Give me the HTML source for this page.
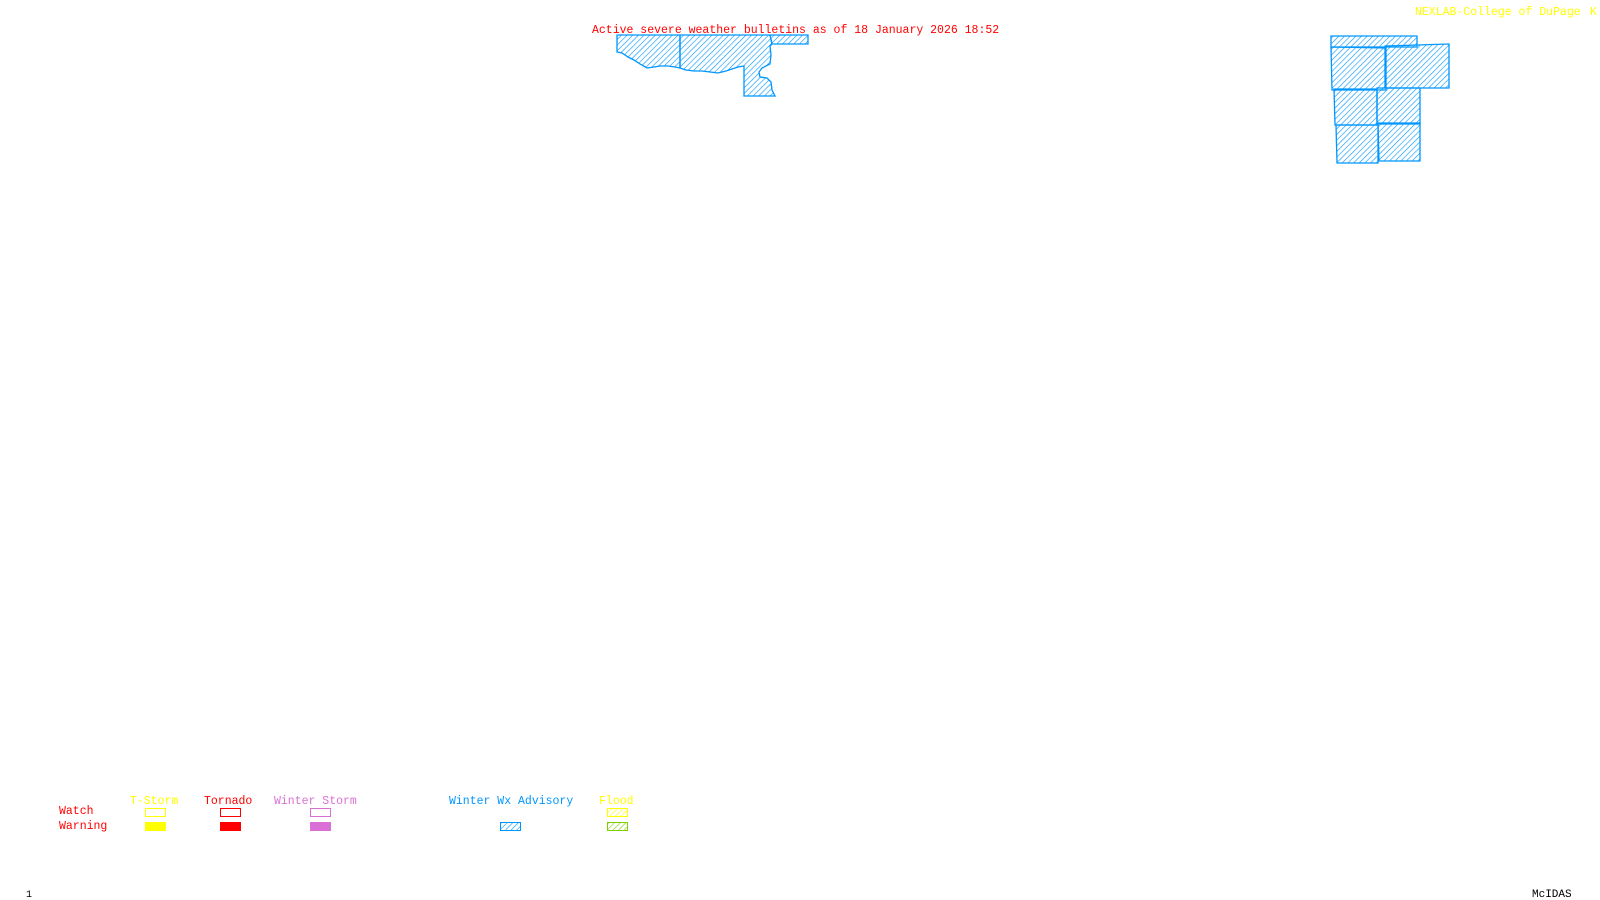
<!DOCTYPE html>
<html><head><style>
html,body{margin:0;padding:0;background:#fff;width:1600px;height:900px;overflow:hidden}
svg{display:block}
text{font-family:"Liberation Mono","DejaVu Sans Mono",monospace;font-size:11.5px}
</style></head><body>
<svg width="1600" height="900" xmlns="http://www.w3.org/2000/svg">
<defs>
<pattern id="hb" width="4" height="4" patternUnits="userSpaceOnUse" patternTransform="rotate(45)"><line x1="0" y1="0" x2="0" y2="4" stroke="#0096ff" stroke-width="1.2"/></pattern>
<pattern id="hy" width="4" height="4" patternUnits="userSpaceOnUse" patternTransform="rotate(45)"><line x1="0" y1="0" x2="0" y2="4" stroke="#ffff00" stroke-width="1.2"/></pattern>
<pattern id="hg" width="4" height="4" patternUnits="userSpaceOnUse" patternTransform="rotate(45)"><line x1="0" y1="0" x2="0" y2="4" stroke="#80d000" stroke-width="1.2"/></pattern>
</defs>
<g fill="url(#hb)" stroke="#0096ff" stroke-width="1.3">
<path d="M617,35 L617,52 L622,53 L628,57 L634,60 L640,64 L647,68 L654,67 L660,66 L668,66 L675,67 L680,68 L680,35 Z"/>
<path d="M680,35 L680,68 L686,70 L694,71 L702,71 L710,72 L718,73 L726,71 L732,69 L738,67 L744,66 L744,96 L775,96 L772,90 L771,82 L767,78 L760,77 L759,72 L762,68 L770,64 L771,55 L770,46 L772,44 L770,35 Z"/>
<path d="M770,35 L808,35 L808,44 L772,44 Z"/>
<path d="M1331,36 L1417,36 L1417,47 L1331,47 Z"/>
<path d="M1331,47 L1386,48 L1386,90 L1332,90 Z"/>
<path d="M1385,46 L1449,44 L1449,88 L1385,88 Z"/>
<path d="M1334,89 L1377,89 L1377,125 L1335,125 Z"/>
<path d="M1377,88 L1420,88 L1420,124 L1377,124 Z"/>
<path d="M1336,125 L1378,125 L1378,163 L1337,163 Z"/>
<path d="M1378,123 L1420,123 L1420,161 L1379,161 Z"/>
</g>
<text x="592" y="33" fill="#ff0000">Active severe weather bulletins as of 18 January 2026 18:52</text>
<text x="1415" y="15" fill="#ffff00">NEXLAB-College of DuPage</text>
<text x="1590" y="15" fill="#ffff00">K</text>
<text x="130" y="804" fill="#ffff00">T-Storm</text>
<text x="204" y="804" fill="#ff0000">Tornado</text>
<text x="274" y="804" fill="#da70d6">Winter Storm</text>
<text x="449" y="804" fill="#0096ff">Winter Wx Advisory</text>
<text x="599" y="804" fill="#ffff00">Flood</text>
<text x="59" y="814" fill="#ff0000">Watch</text>
<text x="59" y="829" fill="#ff0000">Warning</text>
<rect x="145.5" y="808.5" width="20" height="8" fill="none" stroke="#ffff00"/>
<rect x="145" y="822" width="21" height="9" fill="#ffff00"/>
<rect x="220.5" y="808.5" width="20" height="8" fill="none" stroke="#ff0000"/>
<rect x="220" y="822" width="21" height="9" fill="#ff0000"/>
<rect x="310.5" y="808.5" width="20" height="8" fill="none" stroke="#da70d6"/>
<rect x="310" y="822" width="21" height="9" fill="#da70d6"/>
<rect x="500.5" y="822.5" width="20" height="8" fill="url(#hb)" stroke="#0096ff"/>
<rect x="607.5" y="808.5" width="20" height="8" fill="url(#hy)" stroke="#ffff00"/>
<rect x="607.5" y="822.5" width="20" height="8" fill="url(#hg)" stroke="#80d000"/>
<text x="26" y="897" fill="#000" style="font-size:10px">1</text>
<text x="1532" y="897" fill="#000" style="font-size:11px">McIDAS</text>
</svg>
</body></html>
